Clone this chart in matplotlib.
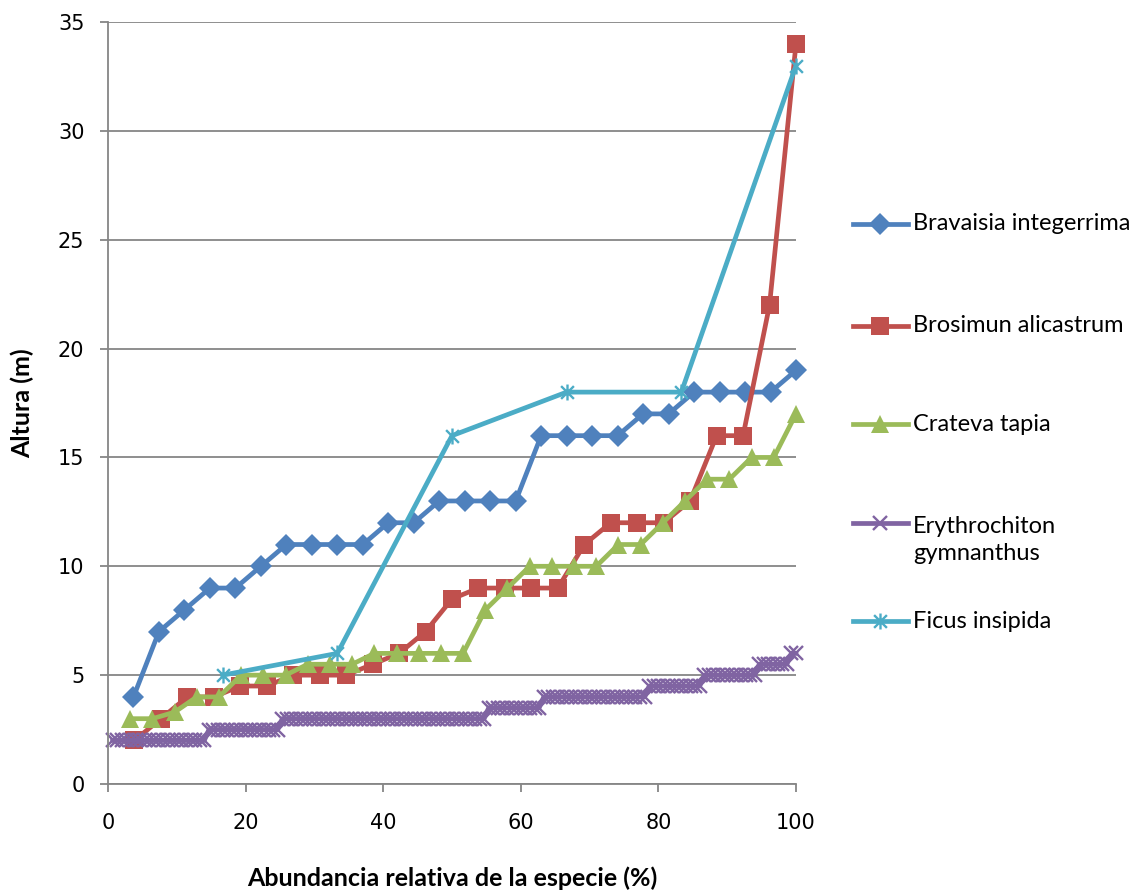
import numpy as np
import matplotlib
matplotlib.use('Agg')
import matplotlib.pyplot as plt
from matplotlib.lines import Line2D
from matplotlib.path import Path

# Altura (m) de cada especie, ordenada por abundancia relativa
bravaisia = [4, 7, 8, 9, 9, 10, 11, 11, 11, 11, 12, 12, 13, 13, 13, 13,
             16, 16, 16, 16, 17, 17, 18, 18, 18, 18, 19]
brosimun = [2, 3, 4, 4, 4.5, 4.5, 5, 5, 5, 5.5, 6, 7, 8.5, 9, 9, 9, 9,
            11, 12, 12, 12, 13, 16, 16, 22, 34]
crateva = [3, 3, 3.3, 4, 4, 5, 5, 5, 5.5, 5.5, 5.5, 6, 6, 6, 6, 6, 8, 9,
           10, 10, 10, 10, 11, 11, 12, 13, 14, 14, 15, 15, 17]
# Erythrochiton: alturas repetidas (nivel, numero de individuos)
erythro_levels = [2, 2.5, 3, 3.5, 4, 4.5, 5, 5.5, 6]
erythro_counts = [21, 16, 45, 12, 23, 12, 12, 7, 2]
ficus = [5, 6, 16, 18, 18, 33]

labels = ['Bravaisia integerrima', 'Brosimun alicastrum', 'Crateva tapia',
          'Erythrochiton\ngymnanthus', 'Ficus insipida']
colors = ['#4F81BD', '#C0504D', '#9BBB59', '#8064A2', '#4BACC6']

erythro = np.repeat(erythro_levels, erythro_counts)


def abundance(values):
    """Abundancia relativa acumulada (%) para cada individuo"""
    n = len(values)
    return np.arange(1, n + 1) * 100.0 / n


# marcador tipo asterisco (X con barra vertical)
star = Path([(-1, -1), (1, 1), (-1, 1), (1, -1), (0, -1.25), (0, 1.25)],
            [Path.MOVETO, Path.LINETO] * 3)

styles = [
    dict(marker='D', markersize=11, markeredgewidth=0),
    dict(marker='s', markersize=12.5, markeredgewidth=0),
    dict(marker='^', markersize=13, markeredgewidth=0),
    dict(marker='x', markersize=10.5, markeredgewidth=1.7),
    dict(marker=star, markersize=11.5, markeredgewidth=1.7),
]
series = [bravaisia, brosimun, crateva, erythro, ficus]

fig = plt.figure(figsize=(11.46, 8.92), dpi=100)
ax = fig.add_axes([108 / 1146, 108 / 892, 688 / 1146, 762 / 892])

for vals, col, st in zip(series, colors, styles):
    ax.plot(abundance(vals), vals, color=col, linewidth=3.4,
            markerfacecolor=col, markeredgecolor=col, clip_on=False, **st)

ax.set_xlim(0, 100)
ax.set_ylim(0, 35)
ax.set_xticks(np.arange(0, 101, 20))
ax.set_yticks(np.arange(0, 36, 5))
ax.yaxis.grid(True, color='#868686', linewidth=1.3)
ax.set_axisbelow(True)
for side in ['top', 'right']:
    ax.spines[side].set_visible(False)
for side in ['left', 'bottom']:
    ax.spines[side].set_color('#868686')
    ax.spines[side].set_linewidth(1.3)
ax.tick_params(axis='both', direction='out', length=6, width=1.3,
               color='#868686', labelsize=15, labelcolor='black')
ax.tick_params(axis='x', pad=15)
ax.tick_params(axis='y', pad=11)

title_font = dict(family=['Lato', 'DejaVu Sans'], fontweight='bold', fontsize=18)
fig.text(452 / 1146, 1 - 878 / 892, 'Abundancia relativa de la especie (%)',
         ha='center', va='center', **title_font)
fig.text(22 / 1146, 1 - 403 / 892, 'Altura (m)', rotation=90,
         ha='center', va='center', **title_font)

# leyenda a la derecha
legend_y = [224, 326, 424, 523, 621]
for lab, col, st, y in zip(labels, colors, styles, legend_y):
    yf = 1 - y / 892
    fig.add_artist(Line2D([853 / 1146, 880 / 1146, 908 / 1146], [yf, yf, yf],
                          transform=fig.transFigure, color=col, linewidth=3.4,
                          markerfacecolor=col, markeredgecolor=col,
                          markevery=[1], **st))
    ty = y + 17 if '\n' in lab else y
    fig.text(913 / 1146, 1 - ty / 892, lab, ha='left', va='center',
             family=['Lato', 'DejaVu Sans'], fontsize=17, linespacing=1.4)

fig.savefig('out.png', dpi=100)
